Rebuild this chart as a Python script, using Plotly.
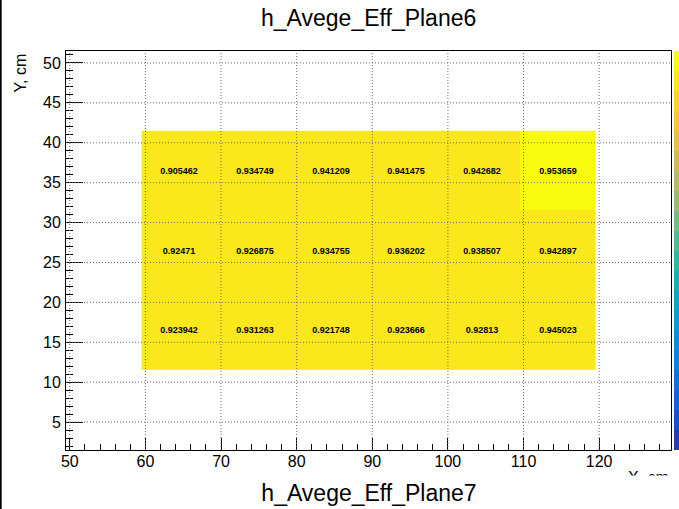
import plotly.graph_objects as go

# Bin centres (cm) and average efficiency per bin
x_centers = [64.5, 74.5, 84.5, 94.5, 104.5, 114.5]
y_centers = [16.5, 26.5, 36.5]
eff_row_16 = [0.923942, 0.931263, 0.921748, 0.923666, 0.92813, 0.945023]
eff_row_26 = [0.92471, 0.926875, 0.934755, 0.936202, 0.938507, 0.942897]
eff_row_36 = [0.905462, 0.934749, 0.941209, 0.941475, 0.942682, 0.953659]

x_major = [50, 60, 70, 80, 90, 100, 110, 120]
y_major = [5, 10, 15, 20, 25, 30, 35, 40, 45, 50]

title_top = "h_Avege_Eff_Plane6"
title_bottom = "h_Avege_Eff_Plane7"

FONT = "Liberation Sans, Arial, Helvetica, sans-serif"

# ROOT kBird palette, sampled into 20 contour levels
stops = [0.0, 0.125, 0.25, 0.375, 0.5, 0.625, 0.75, 0.875, 1.0]
red = [0.2082, 0.0592, 0.0780, 0.0232, 0.1802, 0.5301, 0.8186, 0.9956, 0.9764]
green = [0.1664, 0.3599, 0.5041, 0.6419, 0.7178, 0.7492, 0.7328, 0.7862, 0.9832]
blue = [0.5293, 0.8684, 0.8385, 0.7914, 0.6425, 0.4662, 0.3499, 0.1968, 0.0539]


def bird(f):
    for k in range(len(stops) - 1):
        if stops[k] <= f <= stops[k + 1]:
            t = (f - stops[k]) / (stops[k + 1] - stops[k])
            r = red[k] + (red[k + 1] - red[k]) * t
            g = green[k] + (green[k + 1] - green[k]) * t
            b = blue[k] + (blue[k + 1] - blue[k]) * t
            return "rgb(%d,%d,%d)" % (round(r * 255), round(g * 255), round(b * 255))
    return "rgb(249,251,14)"


n_levels = 20
colorscale = []
for i in range(n_levels):
    idx = int((i + 0.99) * 255 / n_levels)
    c = bird(min(idx / 254, 1.0))
    colorscale.append([i / n_levels, c])
    colorscale.append([(i + 1) / n_levels, c])

fig = go.Figure()
fig.add_trace(go.Heatmap(
    x=x_centers,
    y=y_centers,
    z=[eff_row_16, eff_row_26, eff_row_36],
    zmin=0, zmax=1,
    colorscale=colorscale,
    texttemplate="%{z:.6~g}",
    textfont=dict(family=FONT, size=9, color="black", weight="bold"),
    hoverinfo="x+y+z",
    colorbar=dict(
        x=1.005, xanchor="left", xpad=0, ypad=0,
        y=0.5, yanchor="middle", len=1, lenmode="fraction",
        thickness=40, outlinewidth=0, showticklabels=False, ticks="",
    ),
))

grid_line = dict(color="#6e6e6e", width=1, dash="1px,2px")
shapes = []
for xv in x_major:
    shapes.append(dict(type="line", xref="x", yref="paper", x0=xv, x1=xv,
                       y0=0, y1=1, line=grid_line, layer="above"))
for yv in y_major:
    shapes.append(dict(type="line", xref="paper", yref="y", x0=0, x1=1,
                       y0=yv, y1=yv, line=grid_line, layer="above"))
# pad border on the left edge of the canvas
shapes.append(dict(type="line", xref="paper", yref="paper",
                   x0=-0.108, x1=-0.108, y0=-0.16, y1=1.14,
                   line=dict(color="black", width=2)))

annotations = [
    dict(text=title_top, xref="paper", yref="paper", x=0.5, y=1.083,
         xanchor="center", yanchor="middle", showarrow=False,
         font=dict(family=FONT, size=23, color="black")),
    dict(text="Y, cm", xref="paper", yref="paper", x=-0.0744, y=1.0,
         xanchor="center", yanchor="top", textangle=-90, showarrow=False,
         font=dict(family=FONT, size=16, color="black")),
    dict(text="X, cm", xref="paper", yref="paper", x=1.0, y=-0.07,
         xanchor="right", yanchor="middle", showarrow=False,
         font=dict(family=FONT, size=16, color="black")),
    # lower pad title, its white box hides the rest of the x-axis title
    dict(text=title_bottom, xref="paper", yref="paper", x=0.5, y=-0.1078,
         xanchor="center", yanchor="middle", showarrow=False,
         width=730, height=34, bgcolor="white", borderpad=0,
         font=dict(family=FONT, size=23, color="black")),
]

fig.update_layout(
    width=679, height=509,
    margin=dict(l=66, r=8, t=51, b=59, autoexpand=False),
    paper_bgcolor="white", plot_bgcolor="white",
    font=dict(family=FONT, color="black"),
    shapes=shapes,
    annotations=annotations,
    xaxis=dict(
        range=[49.5, 129.5], showgrid=False, zeroline=False,
        tickmode="array", tickvals=x_major,
        ticks="inside", ticklen=12, tickcolor="black", tickwidth=1,
        minor=dict(ticks="inside", dtick=2, tick0=0, ticklen=6,
                   tickcolor="black", showgrid=False),
        showline=True, linecolor="black", linewidth=1, mirror=True,
        tickfont=dict(family=FONT, size=16, color="black"),
        ticklabelstandoff=-3,
    ),
    yaxis=dict(
        range=[1.5, 51.5], showgrid=False, zeroline=False,
        tickmode="array", tickvals=y_major,
        ticks="inside", ticklen=17, tickcolor="black", tickwidth=1,
        minor=dict(ticks="inside", dtick=1, tick0=0, ticklen=7,
                   tickcolor="black", showgrid=False),
        showline=True, linecolor="black", linewidth=1, mirror=True,
        tickfont=dict(family=FONT, size=16, color="black"),
        ticklabelstandoff=1,
    ),
)

fig.write_html("out.html")
